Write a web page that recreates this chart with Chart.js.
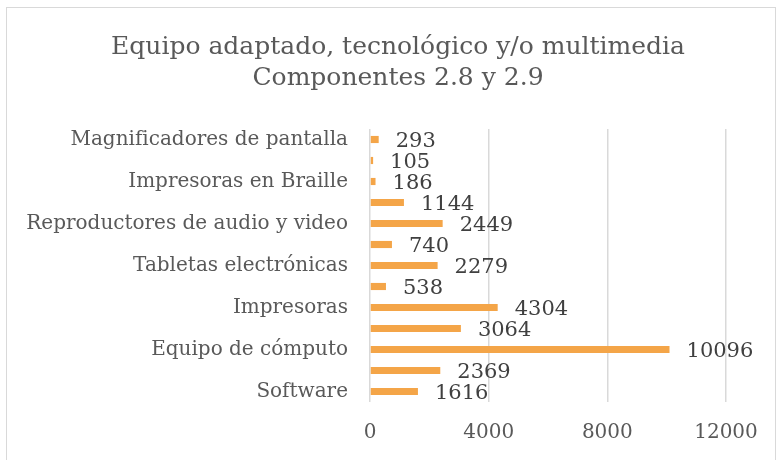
<!DOCTYPE html>
<html lang="es">
<head>
<meta charset="UTF-8">
<title>Equipo adaptado, tecnológico y/o multimedia</title>
<script src="https://cdn.jsdelivr.net/npm/chart.js"></script>
<style>
    html, body { margin: 0; padding: 0; background: #fff; }
    #wrap { position: relative; width: 778px; height: 460px; }
    #frame { position: absolute; left: 6px; top: 7px; right: 2px; bottom: -4px; border: 1.5px solid #d9d9d9; pointer-events: none; }
</style>
</head>
<body>
<div id="wrap">
    <canvas id="chart" width="778" height="460"></canvas>
    <div id="frame"></div>
</div>
<script>
    const titleLines = ['Equipo adaptado, tecnológico y/o multimedia', 'Componentes 2.8 y 2.9'];
    // only every other category name is printed on the axis
    const categories = [
        'Magnificadores de pantalla', '',
        'Impresoras en Braille', '',
        'Reproductores de audio y video', '',
        'Tabletas electrónicas', '',
        'Impresoras', '',
        'Equipo de cómputo', '',
        'Software'
    ];
    const values = [293, 105, 186, 1144, 2449, 740, 2279, 538, 4304, 3064, 10096, 2369, 1616];
    const xTicks = [0, 4000, 8000, 12000];

    const serif = '"DejaVu Serif", serif';

    const titlePlugin = {
        id: 'chartTitle',
        afterDraw(chart) {
            const ctx = chart.ctx;
            ctx.save();
            ctx.font = '25px ' + serif;
            ctx.fillStyle = '#595959';
            ctx.textAlign = 'center';
            ctx.textBaseline = 'middle';
            ctx.fillText(titleLines[0], 398, 47);
            ctx.fillText(titleLines[1], 398, 78);
            ctx.restore();
        }
    };

    const valueLabels = {
        id: 'valueLabels',
        afterDatasetsDraw(chart) {
            const ctx = chart.ctx;
            const meta = chart.getDatasetMeta(0);
            ctx.save();
            ctx.font = '21px ' + serif;
            ctx.fillStyle = '#404040';
            ctx.textAlign = 'left';
            ctx.textBaseline = 'middle';
            meta.data.forEach((bar, i) => {
                ctx.fillText(values[i], bar.x + 17, bar.y + 2);
            });
            ctx.restore();
        }
    };

    new Chart(document.getElementById('chart'), {
        type: 'bar',
        data: {
            labels: categories,
            datasets: [{
                data: values,
                backgroundColor: '#F4A548',
                categoryPercentage: 1,
                barPercentage: 0.34
            }]
        },
        options: {
            indexAxis: 'y',
            responsive: false,
            animation: false,
            layout: { padding: { top: 129, right: 52, left: 0, bottom: 0 } },
            plugins: {
                legend: { display: false },
                tooltip: { enabled: false }
            },
            scales: {
                x: {
                    min: 0,
                    max: 12000,
                    afterBuildTicks(scale) {
                        scale.ticks = xTicks.map(v => ({ value: v }));
                    },
                    afterFit(scale) { scale.height = 58; },
                    grid: { color: '#d9d9d9', lineWidth: 1.5, drawTicks: false },
                    border: { display: false },
                    ticks: {
                        color: '#595959',
                        font: { family: serif, size: 20 },
                        padding: 19,
                        callback: v => String(v)
                    }
                },
                y: {
                    afterFit(scale) { scale.width = 370; },
                    grid: { display: false, drawTicks: false },
                    border: { display: false },
                    ticks: {
                        autoSkip: false,
                        color: '#595959',
                        font: { family: serif, size: 20 },
                        padding: 22
                    }
                }
            }
        },
        plugins: [titlePlugin, valueLabels]
    });
</script>
</body>
</html>
